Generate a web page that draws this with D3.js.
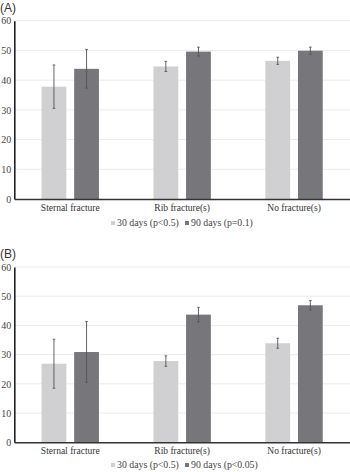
<!DOCTYPE html>
<html>
<head>
<meta charset="utf-8">
<script src="https://cdn.jsdelivr.net/npm/d3@7"></script>
<style>
  body { margin: 0; background: #fff; }
  svg { display: block; }
  .serif { font-family: "Liberation Serif", "Times New Roman", serif; }
</style>
</head>
<body>
<div id="chart"></div>
<script>
// data
const categories = ["Sternal fracture", "Rib fracture(s)", "No fracture(s)"];
const seriesNames = ["30 days", "90 days"];
const yTicks = [0, 10, 20, 30, 40, 50, 60];

// panel A
const a30 = [37.8, 44.6, 46.5];
const a30err = [7.3, 1.7, 1.2];
const a90 = [43.8, 49.6, 49.9];
const a90err = [6.5, 1.5, 1.2];
const aLegend = ["30 days (p<0.5)", "90 days (p=0.1)"];

// panel B
const b30 = [26.9, 27.8, 33.9];
const b30err = [8.4, 1.8, 1.7];
const b90 = [30.9, 43.7, 46.9];
const b90err = [10.4, 2.5, 1.6];
const bLegend = ["30 days (p<0.5)", "90 days (p<0.05)"];

const colors = ["#d0d0d3", "#77777b"];

const W = 350, H = 472;
const svg = d3.select("#chart").append("svg")
    .attr("width", W)
    .attr("height", H);

const serif = '"Liberation Serif", "Times New Roman", serif';

function panel(label, top, bottom, s30, e30, s90, e90, legend, legendY) {
  const g = svg.append("g");

  const x = d3.scaleBand()
      .domain(categories)
      .range([14.3, 350]);

  const x1 = d3.scaleBand()
      .domain(seriesNames)
      .range([x.bandwidth() / 2 - 28.7, x.bandwidth() / 2 + 28.7])
      .paddingInner(0.24);

  const y = d3.scaleLinear().domain([0, 60]).range([bottom, top]);

  // gridlines
  g.append("g")
    .selectAll("line")
    .data(yTicks.filter(d => d > 0))
    .join("line")
      .attr("x1", 14.3).attr("x2", 350)
      .attr("y1", d => y(d)).attr("y2", d => y(d))
      .attr("stroke", "#ebebeb")
      .attr("stroke-width", 1);

  // y axis
  const yAxis = g.append("g")
      .attr("transform", "translate(14.3,0)")
      .call(d3.axisLeft(y).tickValues(yTicks).tickSize(0).tickPadding(3))
      .attr("font-family", serif)
      .attr("font-size", 10);
  yAxis.select(".domain").attr("stroke", "#222").attr("stroke-width", 1.6);
  yAxis.selectAll("text").attr("fill", "#444");

  const rows = [
    {s: seriesNames[0], v: s30, e: e30},
    {s: seriesNames[1], v: s90, e: e90}
  ];

  rows.forEach((r, si) => {
    const bars = g.append("g");
    categories.forEach((c, i) => {
      const bx = x(c) + x1(r.s);
      const bw = x1.bandwidth();
      bars.append("rect")
        .attr("x", bx)
        .attr("y", y(r.v[i]))
        .attr("width", bw)
        .attr("height", y(0) - y(r.v[i]))
        .attr("fill", colors[si]);

      // error bar
      const cx = bx + bw / 2;
      const hi = y(r.v[i] + r.e[i]), lo = y(r.v[i] - r.e[i]);
      bars.append("line")
        .attr("x1", cx).attr("x2", cx)
        .attr("y1", hi).attr("y2", lo)
        .attr("stroke", "#555").attr("stroke-width", 0.9);
      [hi, lo].forEach(yy => {
        bars.append("line")
          .attr("x1", cx - 1.3).attr("x2", cx + 1.3)
          .attr("y1", yy).attr("y2", yy)
          .attr("stroke", "#555").attr("stroke-width", 0.9);
      });
    });
  });

  // x axis
  const xAxis = g.append("g")
      .attr("transform", `translate(0,${bottom})`)
      .call(d3.axisBottom(x).tickSize(0).tickPadding(5))
      .attr("font-family", serif)
      .attr("font-size", 9.5);
  xAxis.select(".domain").attr("stroke", "#333").attr("stroke-width", 1.6);
  xAxis.selectAll("text").attr("fill", "#333");

  // panel label
  g.append("text")
    .attr("x", 0)
    .attr("y", top - 9)
    .attr("fill", "#333")
    .attr("font-family", '"Liberation Sans", Arial, sans-serif')
    .attr("font-size", 12)
    .text(label);

  // legend
  const lg = g.append("g").attr("transform", `translate(0,${legendY})`);
  const lx = [111, 185];
  legend.forEach((t, i) => {
    lg.append("rect")
      .attr("x", lx[i]).attr("y", -2)
      .attr("width", 4).attr("height", 4)
      .attr("fill", colors[i]);
    lg.append("text")
      .attr("x", lx[i] + 6)
      .attr("y", 0)
      .attr("dy", "0.35em")
      .attr("fill", "#444")
      .attr("font-family", serif)
      .attr("font-size", 9.8)
      .text(t);
  });
}

panel("(A)", 20.7, 199, a30, a30err, a90, a90err, aLegend, 223);
panel("(B)", 267, 442.3, b30, b30err, b90, b90err, bLegend, 465);
</script>
</body>
</html>
